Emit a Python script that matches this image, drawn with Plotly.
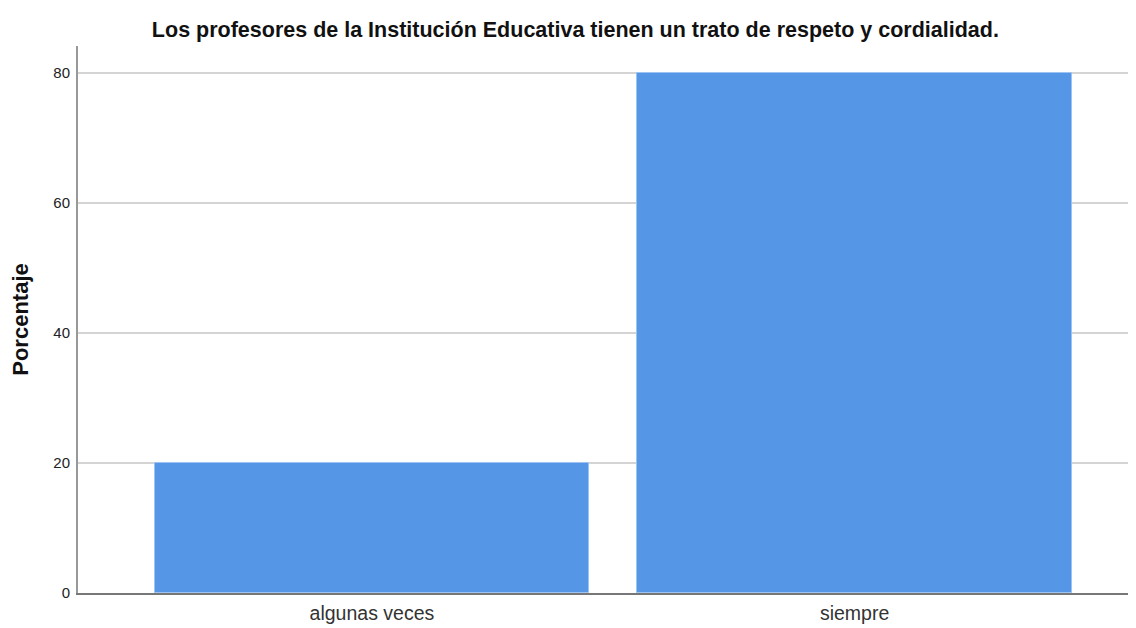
import plotly.graph_objects as go

categories = ["algunas veces", "siempre"]
values = [20, 80]
y_ticks = [0, 20, 40, 60, 80]
title_text = "Los profesores de la Institución Educativa tienen un trato de respeto y cordialidad."
y_title = "Porcentaje"

fig = go.Figure()
fig.add_trace(go.Bar(
    x=[0, 1], y=values, width=0.9,
    marker=dict(color="#5596E6", line=dict(color="#9cc3f2", width=1)),
    hoverinfo="y",
))

fig.update_layout(
    width=1128, height=620,
    margin=dict(l=70, r=1, t=38, b=35),
    paper_bgcolor="white", plot_bgcolor="white",
    font=dict(family="Liberation Sans, Arial, sans-serif", color="#222"),
    title=dict(text="<b>" + title_text + "</b>", x=0.503, xref="container", xanchor="center",
               y=0.966, yref="container", yanchor="middle",
               font=dict(size=21.5, color="#111")),
    showlegend=False,
    bargap=0,
)
fig.update_xaxes(
    range=[-0.609, 1.581],
    tickmode="array", tickvals=[0, 1], ticktext=categories,
    tickfont=dict(size=19.5, color="#333"),
    showline=True, linecolor="#777", linewidth=2,
    showgrid=False, zeroline=False, ticks="outside", ticklen=2, tickcolor="white",
)
fig.update_yaxes(
    range=[0, 84.15],
    tickmode="array", tickvals=y_ticks, ticktext=[str(t) for t in y_ticks],
    tickfont=dict(size=15, color="#222"),
    showline=True, linecolor="#999", linewidth=2,
    showgrid=True, gridcolor="#d4d4d4", gridwidth=2,
    zeroline=False, ticks="outside", ticklen=3, tickcolor="white",
    title=dict(text="<b>" + y_title + "</b>", font=dict(size=22, color="#111"), standoff=20),
)

fig.write_html("out.html")
